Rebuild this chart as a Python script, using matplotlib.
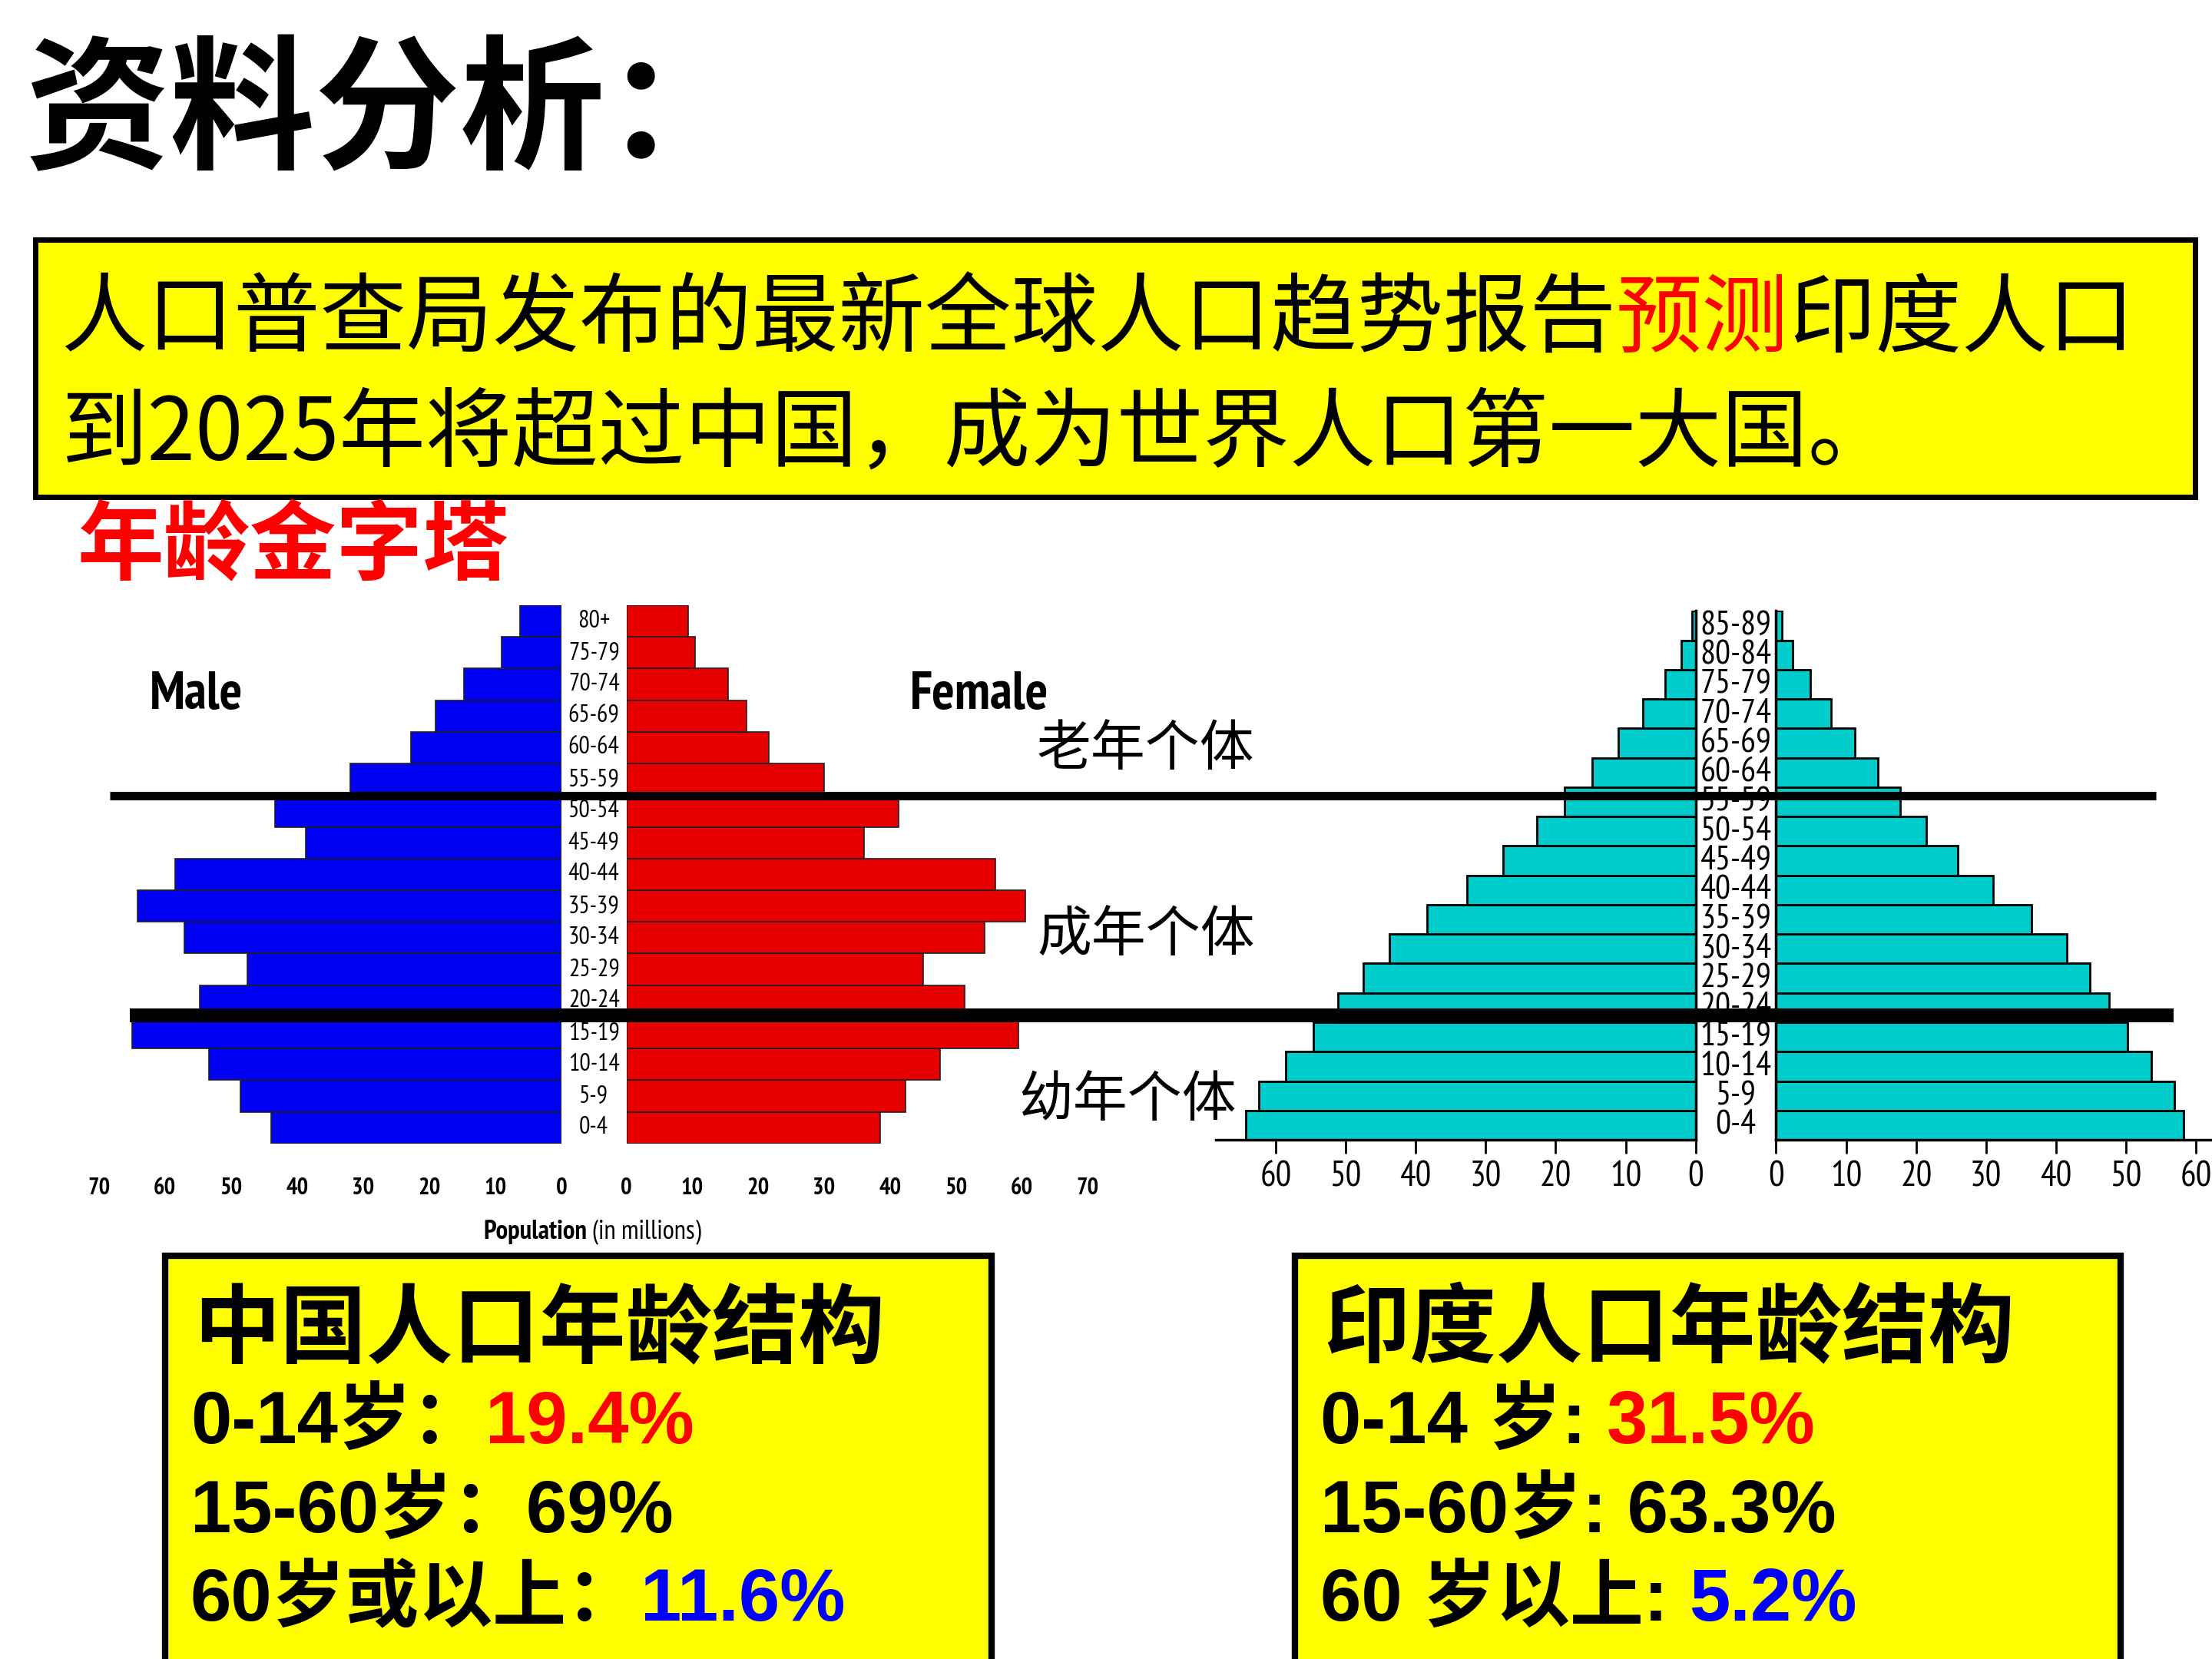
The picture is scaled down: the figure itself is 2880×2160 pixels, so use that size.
import matplotlib
matplotlib.use('Agg')
import matplotlib.pyplot as plt
import numpy as np
from matplotlib import font_manager as fm
from matplotlib import transforms
from matplotlib.patches import Rectangle

# ---- data (millions) ----
china_ages = ['0-4', '5-9', '10-14', '15-19', '20-24', '25-29', '30-34', '35-39',
              '40-44', '45-49', '50-54', '55-59', '60-64', '65-69', '70-74', '75-79', '80+']
china_male = [43.9, 48.6, 53.3, 65.0, 54.7, 47.5, 57.0, 64.1, 58.5, 38.7, 43.4,
              31.9, 22.8, 19.1, 14.8, 9.1, 6.3]
china_female = [38.5, 42.4, 47.6, 59.5, 51.3, 45.0, 54.4, 60.6, 56.0, 36.1, 41.3,
                30.0, 21.6, 18.2, 15.4, 10.4, 9.4]
china_ticks = [0, 10, 20, 30, 40, 50, 60, 70]

india_ages = ['0-4', '5-9', '10-14', '15-19', '20-24', '25-29', '30-34', '35-39', '40-44',
              '45-49', '50-54', '55-59', '60-64', '65-69', '70-74', '75-79', '80-84', '85-89']
india_male = [64.2, 62.4, 58.5, 54.6, 51.1, 47.5, 43.7, 38.4, 32.7, 27.5, 22.7,
              18.7, 14.8, 11.0, 7.5, 4.4, 2.1, 0.5]
india_female = [58.2, 56.9, 53.6, 50.2, 47.6, 44.8, 41.5, 36.5, 31.0, 26.0, 21.5,
                17.7, 14.5, 11.3, 7.8, 4.9, 2.4, 0.8]
india_ticks = [0, 10, 20, 30, 40, 50, 60]

title = '资料分析：'
intro_1 = [('人口普查局发布的最新全球人口趋势报告', 'black'), ('预测', 'red'), ('印度人口', 'black')]
intro_2 = '到2025年将超过中国，成为世界人口第一大国。'
pyramid_title = '年龄金字塔'
group_labels = ['老年个体', '成年个体', '幼年个体']

china_box = ['中国人口年龄结构',
             [('0-14岁：', 'black'), ('19.4%', 'red')],
             [('15-60岁：69%', 'black')],
             [('60岁或以上：', 'black'), ('11.6%', 'blue')]]
india_box = ['印度人口年龄结构',
             [('0-14 岁: ', 'black'), ('31.5%', 'red')],
             [('15-60岁: 63.3%', 'black')],
             [('60 岁以上: ', 'black'), ('5.2%', 'blue')]]

BLUE = '#0000F5'
RED = '#E60000'
CYAN = '#00CCCC'
YELLOW = '#FFFF00'


def has_font(name):
    try:
        fm.findfont(fm.FontProperties(family=name), fallback_to_default=False)
        return True
    except ValueError:
        return False


NARROW = 'DejaVu Sans'
shrink = 0.8   # DejaVu is wide, so make it smaller if no narrow face exists
for cand in ['Liberation Sans Narrow', 'Arial Narrow', 'PT Sans Narrow',
             'Archivo Narrow', 'Roboto Condensed', 'Pragati Narrow']:
    if has_font(cand):
        NARROW = cand
        shrink = 1.0
        break

CJK = ['Noto Sans CJK SC', 'DejaVu Sans']
MIX = ['Liberation Sans', 'Noto Sans CJK SC']

W, H = 1568, 1176   # layout grid (reference pixels)
fig = plt.figure(figsize=(28.8, 21.6), dpi=100)


def px_axes(x0, y0, x1, y1, **kw):
    return fig.add_axes([x0 / W, 1 - y1 / H, (x1 - x0) / W, (y1 - y0) / H], **kw)


ov = px_axes(0, 0, W, H, zorder=5)
ov.set_xlim(0, W)
ov.set_ylim(H, 0)
ov.axis('off')


def put_line(x, y, pieces, size, weight='normal', family=CJK, **kw):
    renderer = fig.canvas.get_renderer()
    for s, c in pieces:
        t = ov.text(x, y, s, color=c, fontsize=size, fontweight=weight,
                    family=family, va='baseline', ha='left', **kw)
        bb = t.get_window_extent(renderer)
        x = ov.transData.inverted().transform((bb.x1, bb.y0))[0]
    return x


# ---- header ----
put_line(18, 112, [(title, 'black')], 136, weight='bold')
ov.add_patch(Rectangle((25, 170), 1531, 182, fc=YELLOW, ec='black', lw=5))
put_line(43, 245, intro_1, 81)
put_line(43, 326, [(intro_2, 'black')], 81)
put_line(55, 406, [(pyramid_title, 'red')], 81, weight='bold')

# ---- China pyramid ----
yc = np.arange(len(china_ages))
axm = px_axes(70, 429, 398, 810.6)
axf = px_axes(444, 429, 771, 810.6)
axm.barh(yc, china_male, height=1.0, color=BLUE, edgecolor='#202020', lw=1.2)
axf.barh(yc, china_female, height=1.0, color=RED, edgecolor='#202020', lw=1.2)
axm.set_xlim(70, 0)
axf.set_xlim(0, 70)
for ax in (axm, axf):
    ax.set_ylim(-0.5, len(china_ages) - 0.5)
    ax.set_yticks([])
    ax.set_xticks(china_ticks, labels=[str(v) for v in china_ticks],
                  fontfamily=NARROW, fontweight='bold', fontsize=22 * shrink)
    ax.tick_params(axis='x', length=0, pad=32)
    for sp in ax.spines.values():
        sp.set_visible(False)

trans_c = transforms.blended_transform_factory(ov.transData, axm.transData)
for i, a in enumerate(china_ages):
    axm.text(421, i, a, transform=trans_c, ha='center', va='center',
             fontsize=23 * shrink, family=NARROW)

ov.text(139, 493, 'Male', fontsize=50 * shrink, fontweight='bold', family=NARROW,
        ha='center', va='center')
ov.text(694, 493, 'Female', fontsize=50 * shrink, fontweight='bold', family=NARROW,
        ha='center', va='center')
x_end = put_line(343, 878, [('Population ', 'black')], 25 * shrink,
                 weight='bold', family=NARROW)
ov.text(x_end, 878, '(in millions)', fontsize=25 * shrink, family=NARROW,
        style='italic', va='baseline', ha='left')

# ---- India pyramid ----
yi = np.arange(len(india_ages))
aim = px_axes(862, 433, 1202, 808)
aif = px_axes(1259, 433, 1568, 808)
aim.barh(yi, india_male, height=1.0, color=CYAN, edgecolor='black', lw=2)
aif.barh(yi, india_female, height=1.0, color=CYAN, edgecolor='black', lw=2)
aim.set_xlim(68.5, 0)
aif.set_xlim(0, 62.3)
for ax, side in ((aim, 'right'), (aif, 'left')):
    ax.set_ylim(-0.5, len(india_ages) - 0.5)
    ax.set_yticks([])
    ax.set_xticks(india_ticks, labels=[str(v) for v in india_ticks],
                  fontfamily=NARROW, fontsize=33 * shrink)
    ax.tick_params(axis='x', direction='out', length=13, width=2, pad=7)
    for name, sp in ax.spines.items():
        sp.set_visible(name in ('bottom', side))
        sp.set_linewidth(2.5)

trans_i = transforms.blended_transform_factory(ov.transData, aim.transData)
for i, a in enumerate(india_ages):
    aim.text(1230.5, i, a, transform=trans_i, ha='center', va='center',
             fontsize=32 * shrink, family=NARROW)

# ---- group divider lines and labels ----
ov.plot([78, 1528], [564, 564], color='black', lw=8, solid_capstyle='butt')
ov.plot([92, 1541], [720, 720], color='black', lw=13, solid_capstyle='butt')
for (gx, gy), g in zip([(735, 542), (735, 674), (722, 791)], group_labels):
    put_line(gx, gy, [(g, 'black')], 51)

# ---- bottom boxes ----
for x0, x1, box in ((117, 703, china_box), (918, 1503, india_box)):
    ov.add_patch(Rectangle((x0, 890), x1 - x0, 320, fc=YELLOW, ec='black', lw=6))
    put_line(x0 + 20, 961, [(box[0], 'black')], 81, weight='bold')
    for k, pieces in enumerate(box[1:]):
        put_line(x0 + 18, 1023 + 63 * k, pieces, 69, weight='bold', family=MIX)

fig.savefig('out.png', dpi=100)
